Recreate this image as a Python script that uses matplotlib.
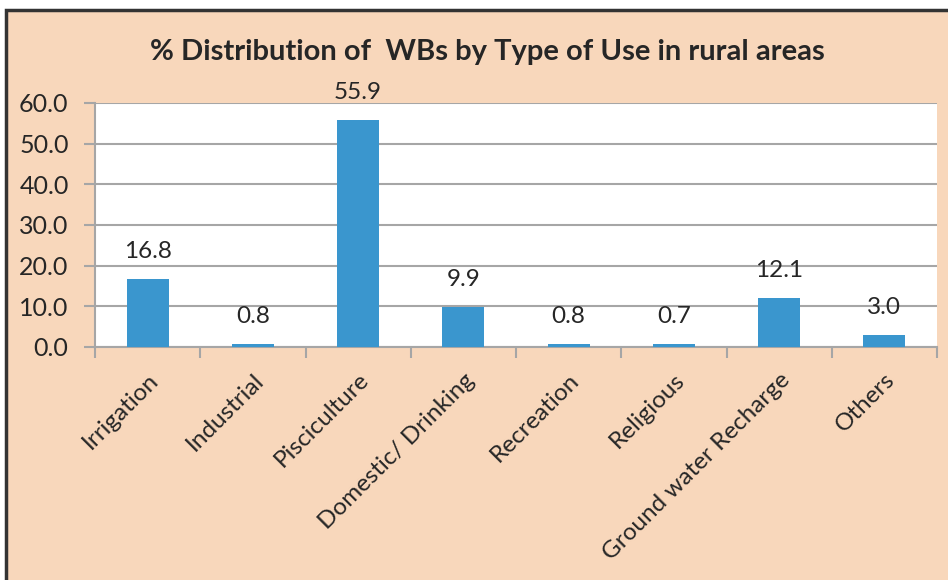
import matplotlib.pyplot as plt
from matplotlib.patches import Rectangle

# data
categories = ['Irrigation', 'Industrial', 'Pisciculture', 'Domestic/ Drinking',
              'Recreation', 'Religious', 'Ground water Recharge', 'Others']
values = [16.8, 0.8, 55.9, 9.9, 0.8, 0.7, 12.1, 3.0]
yticks = [0, 10, 20, 30, 40, 50, 60]

peach = '#F8D7BB'
blue = '#3A96CE'
grid = '#A6A6A6'
txt = '#262626'

plt.rcParams['font.family'] = ['Lato', 'DejaVu Sans']

W, H = 948, 580
fig = plt.figure(figsize=(W / 100, H / 100), dpi=100, facecolor='white')

# peach chart area with dark border (right/bottom run off the image)
fig.patches.append(Rectangle((6 / W, -0.05), 1.2, 1 - 10 / H + 0.05,
                             transform=fig.transFigure, facecolor=peach,
                             edgecolor='#333333', linewidth=2.5, zorder=-5))

ax = fig.add_axes([95 / W, 1 - 347 / H, (937 - 95) / W, (347 - 103) / H])
ax.set_facecolor('white')

x = range(len(categories))
ax.bar(x, values, width=0.4, color=blue, zorder=3)
for xi, v in zip(x, values):
    ax.text(xi, v + 4.2, f'{v:.1f}', ha='center', va='bottom',
            fontsize=17.5, color=txt)

ax.set_xlim(-0.5, len(categories) - 0.5)
ax.set_ylim(0, 60)
ax.set_yticks(yticks)
ax.set_yticklabels([f'{t:.1f}' for t in yticks], fontsize=18, color=txt)
ax.yaxis.grid(True, color=grid, linewidth=1.5, zorder=0)
ax.tick_params(axis='y', length=8, width=1.5, color=grid, pad=11)

ax.set_xticks([i - 0.5 for i in range(len(categories) + 1)], minor=False)
ax.set_xticklabels([])
ax.tick_params(axis='x', length=8, width=1.5, color=grid)
ax.set_xticks(list(x), minor=True)
ax.set_xticklabels(categories, minor=True, rotation=45, ha='right',
                   rotation_mode='anchor', fontsize=17.5, color=txt)
ax.tick_params(axis='x', which='minor', length=0, pad=16)

for s in ['top', 'right']:
    ax.spines[s].set_visible(False)
for s in ['left', 'bottom']:
    ax.spines[s].set_color(grid)
    ax.spines[s].set_linewidth(1.5)

fig.text(487 / W, 1 - 52 / H,
         '% Distribution of  WBs by Type of Use in rural areas',
         ha='center', va='center', fontsize=21, fontweight='bold', color=txt)

fig.savefig('out.png', dpi=100, facecolor=fig.get_facecolor())
